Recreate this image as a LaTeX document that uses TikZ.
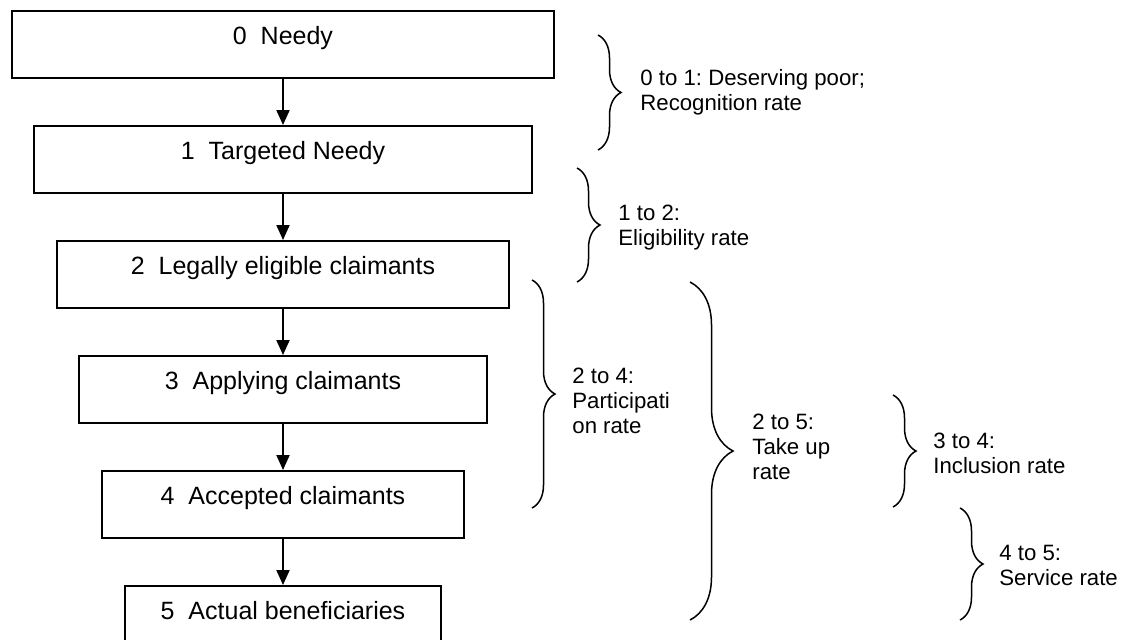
\documentclass[tikz,border=0pt]{standalone}
\usepackage{fontspec}
\setmainfont{Liberation Sans}
\frenchspacing
\usetikzlibrary{arrows.meta,chains,positioning,decorations.pathreplacing}

\begin{document}
\begin{tikzpicture}[
            x=0.5pt, y=-0.5pt,
            stage/.style={rectangle, draw, line width=1pt, inner sep=0pt,
                    text height=16.5pt, text depth=17pt, minimum width=#1,
                    font=\fontsize{12.5}{15}\selectfont},
            rate/.style={decorate, line width=0.75pt,
                    decoration={brace, amplitude=#1}},
            rate/.default=11.5pt,
            ratetext/.style={anchor=west, align=left, inner sep=0pt,
                    font=\fontsize{11.1}{12.5}\selectfont},
            >={Triangle[length=7.5pt,width=6.5pt]},
            start chain=going below,
            node distance=23pt,
            every on chain/.style={join},
            every join/.style={->, line width=1pt}]

        \useasboundingbox (0,0) rectangle (1122,639);

        % stages, one below the other
        \node[stage=271pt,on chain] (N0) at (283,44.5) {0~~Needy};
        \node[stage=249pt,on chain] (N1) {1~~Targeted Needy};
        \node[stage=226pt,on chain] (N2) {2~~Legally eligible claimants};
        \node[stage=204pt,on chain] (N3) {3~~Applying claimants};
        \node[stage=181pt,on chain] (N4) {4~~Accepted claimants};
        \node[stage=158pt,on chain] (N5) {5~~Actual beneficiaries};

        % rates
        \draw[rate] (598,35) -- (598,150);
        \node[ratetext] (R01) at (640,92.5) {0 to 1: Deserving poor;\\Recognition rate};

        \draw[rate] (577,168) -- (577,282);
        \node[ratetext] (R12) at (618,228) {1 to 2:\\Eligibility rate};

        \draw[rate] (532,280) -- (532,508);
        \node[ratetext] (R24) at (572,401) {2 to 4:\\Participati\\on rate};

        \draw[rate=21.5pt] (690,282) -- (690,620);
        \node[ratetext] (R25) at (752,447) {2 to 5:\\Take up\\rate};

        \draw[rate] (893,395) -- (893,507);
        \node[ratetext] (R34) at (933,453) {3 to 4:\\Inclusion rate};

        \draw[rate] (960,508) -- (960,620);
        \node[ratetext] (R45) at (999,565) {4 to 5:\\Service rate};
\end{tikzpicture}
\end{document}
